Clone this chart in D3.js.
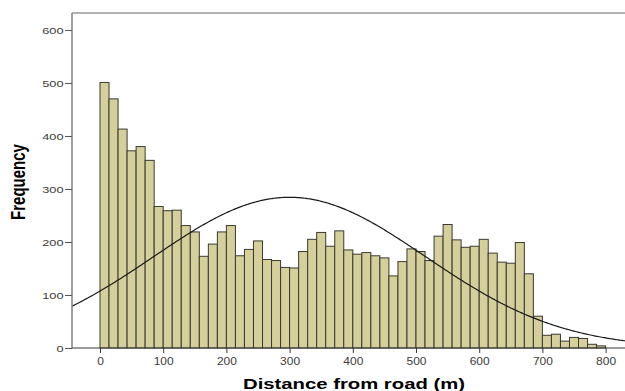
<!DOCTYPE html>
<html>
<head>
<meta charset="utf-8">
<script src="https://cdn.jsdelivr.net/npm/d3@7/dist/d3.min.js"></script>
<style>
  html, body { margin: 0; padding: 0; background: #fff; }
  svg { display: block; }
</style>
</head>
<body>
<svg id="chart" width="625" height="391"></svg>
<script>
// Histogram of distance from road (m), 56 equal-width bins from 0 to 800
const binStart = 0;
const binEnd = 800;
const binCounts = [
  501, 470, 413, 372, 380, 354, 267, 259, 260, 231,
  219, 173, 196, 219, 231, 174, 186, 202, 167, 165,
  152, 151, 182, 205, 218, 192, 221, 185, 177, 180,
  174, 170, 136, 163, 187, 182, 165, 211, 233, 204,
  190, 192, 205, 179, 162, 160, 199, 140, 60, 24,
  26, 13, 20, 18, 7, 4
];
// Fitted normal curve parameters
const fitMean = 300;
const fitSd = 215;

const xTicks = [0, 100, 200, 300, 400, 500, 600, 700, 800];
const yTicks = [0, 100, 200, 300, 400, 500, 600];
const xTitle = "Distance from road (m)";
const yTitle = "Frequency";

const svg = d3.select("#chart");
const plotLeft = 72, plotRight = 625, plotTop = 13, plotBottom = 348;

const x = d3.scaleLinear().domain([-44.3, 830.7]).range([plotLeft, plotRight]);
const y = d3.scaleLinear().domain([0, 632]).range([plotBottom, plotTop]);

const binWidth = (binEnd - binStart) / binCounts.length;
const bins = binCounts.map((c, i) => ({
  x0: binStart + i * binWidth,
  x1: binStart + (i + 1) * binWidth,
  count: c
}));
const total = d3.sum(binCounts);

// bars
svg.append("g")
  .selectAll("rect")
  .data(bins)
  .join("rect")
  .attr("x", d => x(d.x0))
  .attr("y", d => y(d.count))
  .attr("width", d => x(d.x1) - x(d.x0))
  .attr("height", d => y(0) - y(d.count))
  .attr("fill", "#d4cf9b")
  .attr("stroke", "#3a3a32")
  .attr("stroke-width", 1);

// normal curve scaled to counts
const clipId = "plot-clip";
svg.append("clipPath").attr("id", clipId)
  .append("rect").attr("x", plotLeft).attr("y", plotTop)
  .attr("width", plotRight - plotLeft).attr("height", plotBottom - plotTop);

const curvePts = d3.range(-60, 860, 2).map(v => {
  const z = (v - fitMean) / fitSd;
  const dens = Math.exp(-0.5 * z * z) / (fitSd * Math.sqrt(2 * Math.PI));
  return [v, dens * total * binWidth];
});
svg.append("path")
  .datum(curvePts)
  .attr("clip-path", `url(#${clipId})`)
  .attr("fill", "none")
  .attr("stroke", "#1a1a1a")
  .attr("stroke-width", 1.2)
  .attr("d", d3.line().x(d => x(d[0])).y(d => y(d[1])));

// frame top line
svg.append("line")
  .attr("x1", plotLeft).attr("x2", plotRight)
  .attr("y1", plotTop).attr("y2", plotTop)
  .attr("stroke", "#9a9a9a").attr("stroke-width", 1.5);

// y axis
const yAxis = svg.append("g")
  .attr("transform", `translate(${plotLeft},0)`)
  .call(d3.axisLeft(y).tickValues(yTicks).tickSize(7).tickSizeOuter(0));
yAxis.select(".domain").attr("stroke", "#808080").attr("stroke-width", 1.5)
  .attr("d", `M0,${plotTop}V${plotBottom}`);
yAxis.selectAll(".tick line").attr("stroke", "#555");
yAxis.selectAll(".tick text")
  .attr("x", 0).attr("dy", "0.34em")
  .attr("transform", "translate(-8.5,0) scale(1.42,1)")
  .attr("fill", "#3c3c3c")
  .style("font-family", "'Liberation Sans', Arial, sans-serif")
  .style("font-size", "9px");

// x axis
const xAxis = svg.append("g")
  .attr("transform", `translate(0,${plotBottom})`)
  .call(d3.axisBottom(x).tickValues(xTicks).tickSize(5).tickSizeOuter(0));
xAxis.select(".domain").attr("stroke", "#3a3a3a").attr("stroke-width", 1.2)
  .attr("d", `M${plotLeft},0H${plotRight}`);
xAxis.selectAll(".tick line").attr("stroke", "#3a3a3a");
xAxis.selectAll(".tick text")
  .attr("y", 0).attr("dy", 0)
  .attr("transform", "translate(0,17) scale(1.2,1)")
  .attr("fill", "#3c3c3c")
  .style("font-family", "'Liberation Sans', Arial, sans-serif")
  .style("font-size", "10px");

// axis titles
svg.append("text")
  .attr("transform", "translate(354,389) scale(1.45,1)")
  .attr("text-anchor", "middle")
  .style("font-family", "'Liberation Sans', Arial, sans-serif")
  .style("font-weight", "bold")
  .style("font-size", "14px")
  .attr("fill", "#000")
  .text(xTitle);

svg.append("text")
  .attr("transform", "translate(25,182) rotate(-90) scale(1,1.4)")
  .attr("text-anchor", "middle")
  .style("font-family", "'Liberation Sans', Arial, sans-serif")
  .style("font-weight", "bold")
  .style("font-size", "15px")
  .attr("fill", "#000")
  .text(yTitle);
</script>
</body>
</html>
